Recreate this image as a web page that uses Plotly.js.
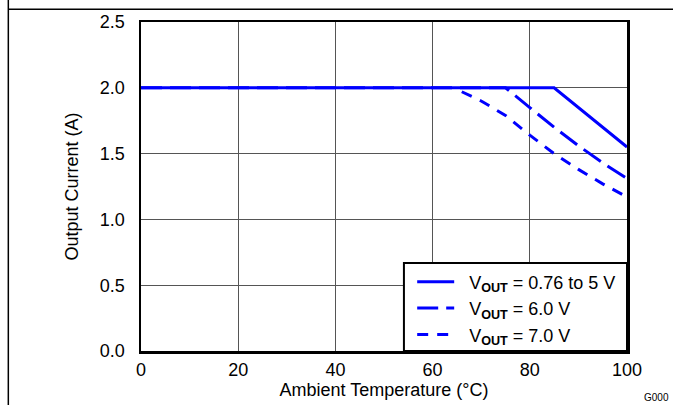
<!DOCTYPE html>
<html>
<head>
<meta charset="utf-8">
<script src="https://cdn.plot.ly/plotly-3.0.1.min.js"></script>
<style>html,body{margin:0;padding:0;background:#fff;}#chart{width:673px;height:405px;}</style>
</head>
<body>
<div id="chart"></div>
<script>
// Series data (Ambient temperature °C vs Output current A)
const temp5V = [0, 85, 100];
const curr5V = [2.0, 2.0, 1.55];
const temp6V = [0, 75, 80, 85, 90, 95, 100];
const curr6V = [2.0, 2.0, 1.85, 1.70, 1.56, 1.43, 1.31];
const temp7V = [66, 70, 75, 80, 85, 90, 95, 100];
const curr7V = [1.97, 1.90, 1.79, 1.64, 1.50, 1.38, 1.27, 1.17];
const seriesNames = ['\u00a0\u00a0V<sub><b>OUT</b></sub> = 0.76 to 5 V', '\u00a0\u00a0V<sub><b>OUT</b></sub> = 6.0 V', '\u00a0\u00a0V<sub><b>OUT</b></sub> = 7.0 V'];
const xTicks = [0, 20, 40, 60, 80, 100];
const yTicks = [0.0, 0.5, 1.0, 1.5, 2.0, 2.5];

const blue = '#0000ff';
const traces = [
  {x: temp5V, y: curr5V, name: seriesNames[0], mode: 'lines', line: {color: blue, width: 3}},
  {x: temp6V, y: curr6V, name: seriesNames[1], mode: 'lines', line: {color: blue, width: 3, dash: '21px,8px'}},
  {x: temp7V, y: curr7V, name: seriesNames[2], mode: 'lines', line: {color: blue, width: 3, dash: '11px,9px'}}
];

const font = {family: 'Arial, Liberation Sans, sans-serif', size: 18, color: '#000'};
const layout = {
  width: 673, height: 405,
  margin: {l: 141, r: 46, t: 22, b: 54, pad: 0},
  paper_bgcolor: '#fff', plot_bgcolor: '#fff',
  font: font,
  showlegend: true,
  xaxis: {
    range: [0, 100], tickvals: xTicks, ticktext: xTicks.map(String),
    showgrid: true, gridcolor: '#555', gridwidth: 1,
    showline: true, linecolor: '#000', linewidth: 2.5, mirror: true,
    ticks: '', zeroline: false, ticklabelstandoff: 1,
    tickfont: {size: 18},
    title: {text: 'Ambient Temperature (°C)', font: {size: 18}, standoff: 0}
  },
  yaxis: {
    range: [0, 2.5], tickvals: yTicks, ticktext: yTicks.map(v => v.toFixed(1)),
    showgrid: true, gridcolor: '#555', gridwidth: 1,
    showline: true, linecolor: '#000', linewidth: 2.5, mirror: true,
    ticks: '', zeroline: false, ticklabelstandoff: 10,
    tickfont: {size: 18},
    title: {text: 'Output Current (A)', font: {size: 18}, standoff: 17}
  },
  legend: {
    x: 0.558, y: 0.266, xanchor: 'left', yanchor: 'top',
    bgcolor: 'rgba(0,0,0,0)', borderwidth: 0,
    font: {size: 18}, tracegroupgap: 0, itemwidth: 37
  },
  shapes: [
    {type: 'rect', xref: 'paper', yref: 'paper', x0: 0.541, x1: 1, y0: 0, y1: 0.2675, layer: 'above', fillcolor: '#fff', line: {color: '#000', width: 2}},
    {type: 'line', xref: 'paper', yref: 'paper', x0: -0.273, x1: 1.1, y0: 1.039, y1: 1.039, line: {color: '#000', width: 1.5}},
    {type: 'line', xref: 'paper', yref: 'paper', x0: -0.273, x1: -0.273, y0: -0.2, y1: 1.1, line: {color: '#000', width: 1.5}}
  ],
  annotations: [
    {text: 'G000', xref: 'paper', yref: 'paper', x: 1.06, y: -0.14, xanchor: 'center', yanchor: 'middle', showarrow: false, font: {size: 10}}
  ]
};

Plotly.newPlot('chart', traces, layout, {displayModeBar: false, staticPlot: true});
</script>
</body>
</html>
